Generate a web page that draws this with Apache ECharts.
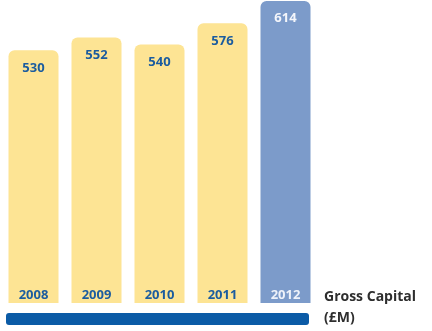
<!DOCTYPE html>
<html><head><meta charset="utf-8">
<script src="https://cdn.jsdelivr.net/npm/echarts@6/dist/echarts.min.js"></script>
<style>html,body{margin:0;padding:0;background:#fff}#c{width:432px;height:331px}</style>
</head><body><div id="c"></div>
<script>
const years = ['2008','2009','2010','2011','2012'];
const values = [530, 552, 540, 576, 614];
const highlightYear = '2012';
const titleLines = ['Gross Capital', '(£M)'];

const yellow = '#fde494';
const blueBar = '#7c9bca';
const labelBlue = '#1b5c9f';
const FONT = '"Open Sans", "Noto Sans", sans-serif';

const chart = echarts.init(document.getElementById('c'), null, {renderer:'canvas'});
chart.setOption({
  animation: false,
  grid: {left: 2, width: 315, top: 1, bottom: 28, containLabel: false},
  xAxis: {
    type: 'category', data: years,
    axisLine: {show: false}, axisTick: {show: false},
    axisLabel: {
      inside: true, interval: 0, margin: 1, fontFamily: FONT, fontWeight: 'bold', fontSize: 13,
      formatter: v => v === highlightYear ? '{w|' + v + '}' : '{b|' + v + '}',
      rich: {
        b: {color: labelBlue, fontFamily: FONT, fontWeight: 'bold', fontSize: 13},
        w: {color: '#eef2fa', fontFamily: FONT, fontWeight: 'bold', fontSize: 13}
      }
    },
    z: 10
  },
  yAxis: {type: 'value', min: 100, max: 614, show: false, splitLine: {show: false}},
  series: [{
    type: 'bar', barWidth: 50,
    data: values.map((v, i) => ({
      value: v,
      itemStyle: {color: years[i] === highlightYear ? blueBar : yellow},
      label: {color: years[i] === highlightYear ? '#f4f6fb' : labelBlue}
    })),
    itemStyle: {borderRadius: [6, 6, 0, 0]},
    label: {show: true, position: 'insideTop', distance: 11, fontFamily: FONT, fontWeight: 'bold', fontSize: 13}
  }],
  graphic: [
    {type: 'rect', left: 6, top: 313, shape: {width: 303, height: 12, r: 3}, style: {fill: '#0b5ba6'}},
    {type: 'text', left: 324, top: 287, style: {text: titleLines.join('\n'), fill: '#2e2e2e', font: 'bold 14px ' + FONT, lineHeight: 21}}
  ]
});
</script></body></html>
